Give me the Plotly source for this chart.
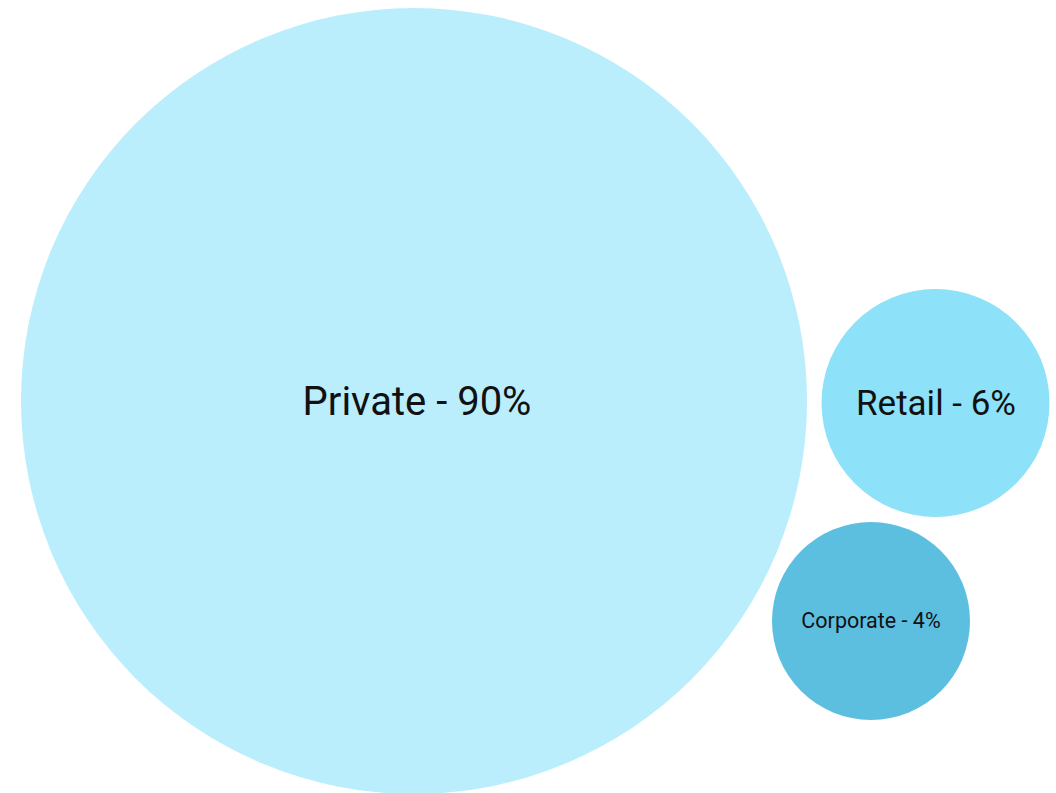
import plotly.graph_objects as go

# Data
categories = ["Private", "Retail", "Corporate"]
shares = [90, 6, 4]

# Layout of the bubble packing (pixel space of the 1056x793 canvas)
center_x = [414, 935.5, 871]
center_y = [401, 403, 621]
diameters = [786, 228, 198]
colors = ["#BAEEFC", "#8DE1F9", "#5DBFE0"]
font_sizes = [40, 35, 21.5]
label_x = [417, 936, 871]
label_y = [405, 406, 623]

labels = [f"{c} - {v}%" for c, v in zip(categories, shares)]

fig = go.Figure()
fig.add_trace(go.Scatter(
    x=center_x,
    y=center_y,
    mode="markers",
    marker=dict(size=diameters, color=colors, line=dict(width=0), opacity=1),
    hoverinfo="skip",
    showlegend=False,
))
fig.add_trace(go.Scatter(
    x=label_x,
    y=label_y,
    mode="text",
    text=labels,
    textposition="middle center",
    textfont=dict(family="Roboto, sans-serif", size=font_sizes, color="#111111"),
    hoverinfo="text",
    showlegend=False,
))

fig.update_layout(
    width=1056, height=793,
    margin=dict(l=0, r=0, t=0, b=0),
    paper_bgcolor="white", plot_bgcolor="white",
    xaxis=dict(range=[0, 1056], visible=False, fixedrange=True),
    yaxis=dict(range=[793, 0], visible=False, fixedrange=True),
)

fig.write_html("out.html")
